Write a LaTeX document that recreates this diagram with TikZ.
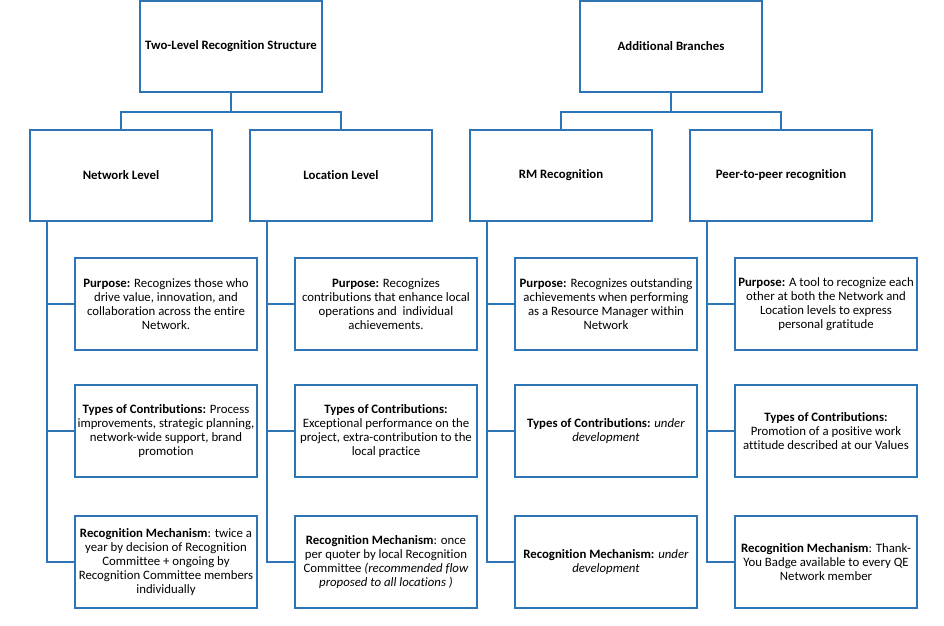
\documentclass[tikz,border=0pt]{standalone}
\usepackage{fontspec}
\setmainfont[Ligatures=NoCommon]{Carlito}
\usetikzlibrary{calc}
\definecolor{boxblue}{RGB}{46,117,182}
\tikzset{
  headbox/.style={draw=boxblue, line width=1.1pt, fill=white, minimum width=4.55cm, minimum height=2.275cm, align=center, font=\fontsize{9.1}{10}\selectfont\bfseries},
  leafbox/.style={draw=boxblue, line width=1.1pt, fill=white, minimum width=4.55cm, minimum height=2.3cm, inner xsep=1pt, align=center, font=\fontsize{9.1}{10}\selectfont},
  conn/.style={draw=boxblue, line width=1.3pt}
}
\begin{document}
\begin{tikzpicture}
  \useasboundingbox (0,0) rectangle (23.6,-15.65);

  % Top level
  \node[headbox] (twolevel) at (5.775,-1.1625) {Two-Level Recognition Structure};
  \node[headbox] (additional) at (16.775,-1.1625) {Additional Branches};

  % Second level
  \node[headbox] (network) at (3.025,-4.3875) {Network Level};
  \node[headbox] (location) at (8.525,-4.3875) {Location Level};
  \node[headbox] (rm) at (14.025,-4.3875) {RM Recognition};
  \node[headbox] (peer) at (19.525,-4.3875) {Peer-to-peer recognition};

  % Network level details
  \node[leafbox] (netpurpose) at (4.15,-7.6) {\textbf{Purpose:} Recognizes those who\\drive value, innovation, and\\collaboration across the entire\\Network.};
  \node[leafbox] (nettypes) at (4.15,-10.775) {\textbf{Types of Contributions:} Process\\improvements, strategic planning,\\network-wide support, brand\\promotion};
  \node[leafbox] (netmech) at (4.15,-14.05) {\textbf{Recognition Mechanism}: twice a\\year by decision of Recognition\\Committee + ongoing by\\Recognition Committee members\\individually};

  % Location level details
  \node[leafbox] (locpurpose) at (9.65,-7.6) {\textbf{Purpose:} Recognizes\\contributions that enhance local\\operations and\ \ individual\\achievements.};
  \node[leafbox] (loctypes) at (9.65,-10.775) {\textbf{Types of Contributions:}\\Exceptional performance on the\\project, extra-contribution to the\\local practice};
  \node[leafbox] (locmech) at (9.65,-14.05) {\textbf{Recognition Mechanism}: once\\per quoter by local Recognition\\Committee \textit{(recommended flow}\\\textit{proposed to all locations )}};

  % RM recognition details
  \node[leafbox] (rmpurpose) at (15.15,-7.6) {\textbf{Purpose:} Recognizes outstanding\\achievements when performing\\as a Resource Manager within\\Network};
  \node[leafbox] (rmtypes) at (15.15,-10.775) {\textbf{Types of Contributions:} \textit{under}\\\textit{development}};
  \node[leafbox] (rmmech) at (15.15,-14.05) {\textbf{Recognition Mechanism:} \textit{under}\\\textit{development}};

  % Peer-to-peer details
  \node[leafbox] (peerpurpose) at (20.65,-7.6) {\textbf{Purpose:} A tool to recognize each\\other at both the Network and\\Location levels to express\\personal gratitude};
  \node[leafbox] (peertypes) at (20.65,-10.775) {\textbf{Types of Contributions:}\\Promotion of a positive work\\attitude described at our Values};
  \node[leafbox] (peermech) at (20.65,-14.05) {\textbf{Recognition Mechanism}: Thank-\\You Badge available to every QE\\Network member};

  % Tree connectors
  \draw[conn] (twolevel.south) -- ++(0,-0.475) -| (network.north);
  \draw[conn] (twolevel.south) -- ++(0,-0.475) -| (location.north);
  \draw[conn] (additional.south) -- ++(0,-0.475) -| (rm.north);
  \draw[conn] (additional.south) -- ++(0,-0.475) -| (peer.north);

  % Side spines
  \coordinate (netspine) at ($(network.south west)+(0.45,0)$);
  \coordinate (locspine) at ($(location.south west)+(0.45,0)$);
  \coordinate (rmspine) at ($(rm.south west)+(0.45,0)$);
  \coordinate (peerspine) at ($(peer.south west)+(0.45,0)$);
  \draw[conn] (netspine) |- (netmech.west);
  \draw[conn] (netspine |- netpurpose.west) -- (netpurpose.west);
  \draw[conn] (netspine |- nettypes.west) -- (nettypes.west);
  \draw[conn] (locspine) |- (locmech.west);
  \draw[conn] (locspine |- locpurpose.west) -- (locpurpose.west);
  \draw[conn] (locspine |- loctypes.west) -- (loctypes.west);
  \draw[conn] (rmspine) |- (rmmech.west);
  \draw[conn] (rmspine |- rmpurpose.west) -- (rmpurpose.west);
  \draw[conn] (rmspine |- rmtypes.west) -- (rmtypes.west);
  \draw[conn] (peerspine) |- (peermech.west);
  \draw[conn] (peerspine |- peerpurpose.west) -- (peerpurpose.west);
  \draw[conn] (peerspine |- peertypes.west) -- (peertypes.west);

\end{tikzpicture}
\end{document}
